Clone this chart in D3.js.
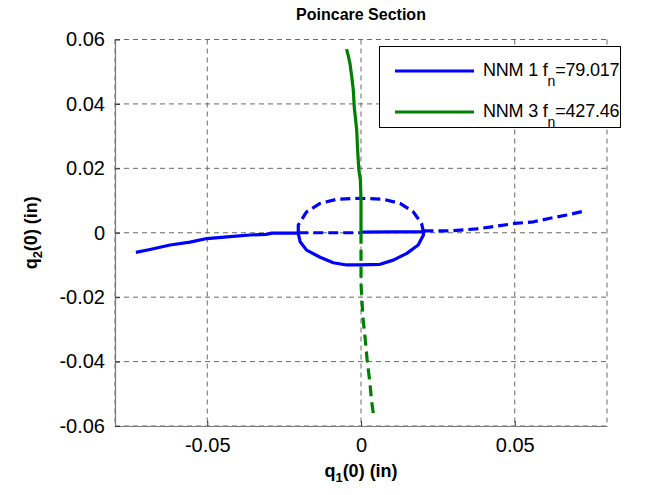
<!DOCTYPE html>
<html>
<head>
<meta charset="utf-8">
<script src="https://cdn.jsdelivr.net/npm/d3@7"></script>
<style>
  html, body { margin: 0; padding: 0; background: #fff; }
  svg { display: block; font-family: "Liberation Sans", Arial, Helvetica, sans-serif; }
</style>
</head>
<body>
<svg id="chart" width="647" height="495"></svg>
<script>
// Axis ticks
const xTicks = [-0.05, 0, 0.05];
const yTicks = [-0.06, -0.04, -0.02, 0, 0.02, 0.04, 0.06];
const xTickLabels = ["-0.05", "0", "0.05"];
const yTickLabels = ["-0.06", "-0.04", "-0.02", "0", "0.02", "0.04", "0.06"];

// NNM 1 (blue) — solid branch pieces: [q1, q2]
const nnm1LeftTail = [
  [-0.0732, -0.0061], [-0.0686, -0.0052], [-0.0621, -0.0038], [-0.0556, -0.0029],
  [-0.0501, -0.0018], [-0.0426, -0.0012], [-0.0361, -0.0007], [-0.0309, -0.0005],
  [-0.0290, -0.0001], [-0.0205, -0.0001]
];
const nnm1LowerLoop = [
  [-0.0204, -0.0002], [-0.0198, -0.0028], [-0.0177, -0.0054], [-0.0133, -0.0076],
  [-0.0090, -0.0093], [-0.0047, -0.0100], [-0.0003, -0.0100], [0.0062, -0.0098],
  [0.0105, -0.0085], [0.0149, -0.0064], [0.0186, -0.0038], [0.0203, -0.0007],
  [0.0203, 0.0003]
];
const nnm1InnerSolid = [[0.0000, 0.0002], [0.0100, 0.0003], [0.0203, 0.0003]];

// NNM 1 (blue) — dashed branch pieces
const nnm1UpperLoop = [
  [-0.0204, 0.0000], [-0.0204, 0.0024], [-0.0177, 0.0065], [-0.0133, 0.0091],
  [-0.0079, 0.0104], [-0.0003, 0.0107], [0.0073, 0.0104], [0.0127, 0.0091],
  [0.0170, 0.0065], [0.0197, 0.0029], [0.0203, 0.0003]
];
const nnm1InnerDashed = [[-0.0204, 0.0000], [-0.0100, 0.0000], [0.0000, 0.0000]];
const nnm1RightTail = [
  [0.0203, 0.0006], [0.0290, 0.0006], [0.0376, 0.0012], [0.0452, 0.0022],
  [0.0501, 0.0029], [0.0561, 0.0034], [0.0615, 0.0045], [0.0669, 0.0055],
  [0.0729, 0.0068]
];

// NNM 3 (green)
const nnm3Solid = [
  [-0.0047, 0.0570], [-0.0042, 0.0552], [-0.0036, 0.0526], [-0.0030, 0.0484],
  [-0.0025, 0.0443], [-0.0022, 0.0391], [-0.0014, 0.0319], [-0.0011, 0.0257],
  [-0.0007, 0.0195], [-0.0002, 0.0164], [0.0000, 0.0102], [0.0000, 0.0000]
];
const nnm3Dashed = [
  [0.0000, 0.0000], [0.0000, -0.0054], [0.0000, -0.0156], [0.0006, -0.0261],
  [0.0013, -0.0323], [0.0020, -0.0395], [0.0029, -0.0466], [0.0034, -0.0519],
  [0.0040, -0.0561]
];

const legendItems = [
  { name: "NNM 1 f", sub: "n", value: "=79.017", color: "#0000ff" },
  { name: "NNM 3 f", sub: "n", value: "=427.46", color: "#008000" }
];

const svg = d3.select("#chart");
const plot = { left: 115, right: 607, top: 39.5, bottom: 426 };

const x = d3.scaleLinear().domain([-0.08, 0.08]).range([plot.left, plot.right]);
const y = d3.scaleLinear().domain([-0.06, 0.06]).range([plot.bottom, plot.top]);

// Grid lines (dashed), including the plot edges
const gridG = svg.append("g");
const xGrid = [-0.08, ...xTicks, 0.08];
gridG.selectAll("line.gx").data(xGrid).join("line")
  .attr("x1", d => x(d)).attr("x2", d => x(d))
  .attr("y1", plot.top).attr("y2", plot.bottom)
  .attr("stroke", "#6a6a6a").attr("stroke-width", 1).attr("stroke-dasharray", "5,4");
gridG.selectAll("line.gy").data(yTicks).join("line")
  .attr("x1", plot.left).attr("x2", plot.right)
  .attr("y1", d => y(d)).attr("y2", d => y(d))
  .attr("stroke", "#6a6a6a").attr("stroke-width", 1).attr("stroke-dasharray", "5,4");

// Left and bottom axes
const axisColor = "#7a7a7a";
const xAxis = d3.axisBottom(x).tickValues(xTicks).tickSizeInner(-5).tickSizeOuter(0)
  .tickPadding(12).tickFormat((d, i) => xTickLabels[i]);
const yAxis = d3.axisLeft(y).tickValues(yTicks).tickSizeInner(-5).tickSizeOuter(0)
  .tickPadding(10).tickFormat((d, i) => yTickLabels[i]);

const gx = svg.append("g").attr("transform", `translate(0,${plot.bottom})`).call(xAxis);
const gy = svg.append("g").attr("transform", `translate(${plot.left},0)`).call(yAxis);
[gx, gy].forEach(g => {
  g.select(".domain").attr("stroke", axisColor).attr("stroke-width", 1.2);
  g.selectAll(".tick line").attr("stroke", "#333");
  g.selectAll(".tick text").attr("fill", "#000").attr("font-size", 20)
    .attr("font-family", "'Liberation Sans', Arial, sans-serif");
});
gx.selectAll(".tick text").attr("dy", "0.71em");

// Curves
const line = d3.line().x(d => x(d[0])).y(d => y(d[1]));
const curves = svg.append("g").attr("fill", "none").attr("stroke-linejoin", "round");

function drawCurve(data, color, dash) {
  curves.append("path").datum(data)
    .attr("d", line)
    .attr("stroke", color)
    .attr("stroke-width", 3.2)
    .attr("stroke-dasharray", dash || null);
}

const blue = "#0000ff", green = "#008000";
drawCurve(nnm1LeftTail, blue);
drawCurve(nnm1LowerLoop, blue);
drawCurve(nnm1InnerSolid, blue);
drawCurve(nnm1UpperLoop, blue, "10,5");
drawCurve(nnm1InnerDashed, blue, "10,5");
drawCurve(nnm1RightTail, blue, "10,5");
drawCurve(nnm3Solid, green);
drawCurve(nnm3Dashed, green, "11,6");

// Title and axis labels
svg.append("text").attr("x", (plot.left + plot.right) / 2).attr("y", 20)
  .attr("text-anchor", "middle").attr("font-size", 16).attr("font-weight", "bold")
  .text("Poincare Section");

const xl = svg.append("text").attr("x", (plot.left + plot.right) / 2).attr("y", 477)
  .attr("text-anchor", "middle").attr("font-size", 18).attr("font-weight", "bold");
xl.append("tspan").text("q");
xl.append("tspan").attr("dy", 5).attr("font-size", 13).text("1");
xl.append("tspan").attr("dy", -5).text("(0) (in)");

const yl = svg.append("text")
  .attr("transform", `translate(37,${(plot.top + plot.bottom) / 2}) rotate(-90)`)
  .attr("text-anchor", "middle").attr("font-size", 18).attr("font-weight", "bold");
yl.append("tspan").text("q");
yl.append("tspan").attr("dy", 5).attr("font-size", 13).text("2");
yl.append("tspan").attr("dy", -5).text("(0) (in)");

// Legend
const lg = svg.append("g");
lg.append("rect").attr("x", 379.5).attr("y", 46.5).attr("width", 241).attr("height", 81)
  .attr("fill", "#fff").attr("stroke", "#000").attr("stroke-width", 1);
const rowY = [71, 112];
legendItems.forEach((d, i) => {
  lg.append("line").attr("x1", 395).attr("x2", 474).attr("y1", rowY[i]).attr("y2", rowY[i])
    .attr("stroke", d.color).attr("stroke-width", 3.2);
  const t = lg.append("text").attr("x", 483).attr("y", rowY[i] + 5)
    .attr("font-size", 18).attr("letter-spacing", "-0.2");
  t.append("tspan").text(d.name);
  t.append("tspan").attr("dy", 10).attr("font-size", 14).text(d.sub);
  t.append("tspan").attr("dy", -10).text(d.value);
});
</script>
</body>
</html>
